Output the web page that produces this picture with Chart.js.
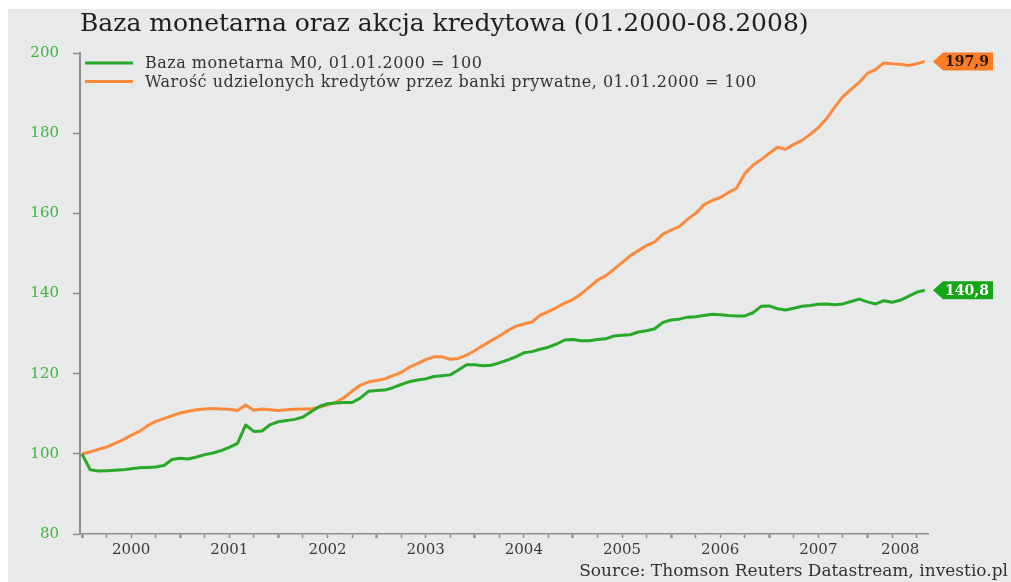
<!DOCTYPE html>
<html>
<head>
<meta charset="utf-8">
<script src="https://cdn.jsdelivr.net/npm/chart.js@4.4.1/dist/chart.umd.min.js"></script>
<style>
  html, body { margin: 0; padding: 0; background: #ffffff; }
  #wrap { width: 1011px; height: 582px; }
</style>
</head>
<body>
<div id="wrap"><canvas id="chartMoney" width="1011" height="582"></canvas></div>
<script>
// monthly index values, Jan 2000 .. Aug 2008 (01.01.2000 = 100)
const yearLabels = ['2000', '2001', '2002', '2003', '2004', '2005', '2006', '2007', '2008'];

const baseM0 = [
  100.0, 96.0, 95.7, 95.8, 95.9, 96.0, 96.3, 96.5, 96.6, 96.7, 97.1, 98.6,
  98.9, 98.7, 99.2, 99.8, 100.2, 100.8, 101.6, 102.6, 107.2, 105.6, 105.7, 107.3,
  108.0, 108.3, 108.6, 109.2, 110.5, 111.8, 112.5, 112.7, 112.8, 112.8, 113.9, 115.6,
  115.8, 115.9, 116.5, 117.3, 118.0, 118.4, 118.7, 119.3, 119.5, 119.7, 120.9, 122.2,
  122.2, 122.0, 122.1, 122.7, 123.4, 124.2, 125.2, 125.5, 126.1, 126.6, 127.4, 128.4,
  128.5, 128.2, 128.2, 128.5, 128.7, 129.4, 129.6, 129.7, 130.4, 130.7, 131.2, 132.8,
  133.4, 133.6, 134.1, 134.2, 134.5, 134.8, 134.7, 134.5, 134.4, 134.4, 135.2, 136.8,
  136.9, 136.2, 135.9, 136.3, 136.8, 137.0, 137.3, 137.4, 137.2, 137.4, 138.0, 138.6,
  137.9, 137.4, 138.2, 137.8, 138.3, 139.3, 140.3, 140.8
];

const credit = [
  100.0, 100.5, 101.1, 101.7, 102.6, 103.5, 104.6, 105.6, 107.0, 108.1, 108.8, 109.5,
  110.2, 110.6, 111.0, 111.2, 111.3, 111.2, 111.1, 110.8, 112.2, 110.9, 111.2, 111.0,
  110.8, 111.0, 111.1, 111.2, 111.2, 111.6, 112.2, 112.8, 114.0, 115.6, 117.1, 117.9,
  118.3, 118.7, 119.5, 120.3, 121.6, 122.5, 123.5, 124.2, 124.2, 123.6, 123.8, 124.6,
  125.8, 127.0, 128.2, 129.4, 130.7, 131.8, 132.4, 132.9, 134.6, 135.5, 136.5, 137.6,
  138.5, 139.9, 141.6, 143.3, 144.4, 146.0, 147.7, 149.4, 150.7, 152.0, 152.9, 154.8,
  155.8, 156.7, 158.5, 160.0, 162.1, 163.2, 163.9, 165.2, 166.3, 169.9, 172.0, 173.4,
  175.0, 176.5, 176.0, 177.2, 178.2, 179.7, 181.4, 183.6, 186.5, 189.1, 190.9, 192.7,
  194.9, 195.9, 197.5, 197.3, 197.2, 196.9, 197.3, 197.9
];

const seriesNames = [
  'Baza monetarna M0, 01.01.2000 = 100',
  'Warość udzielonych kredytów przez banki prywatne, 01.01.2000 = 100'
];

const colors = {
  green: '#2aa82a',
  orange: '#fb8a3c',
  tagGreen: '#16a516',
  tagOrange: '#fa7d26',
  axis: '#8e8e8e',
  yTick: '#3cb63c',
  text: '#333333',
  bg: '#e8e9e9',
};

const FONT = "'DejaVu Serif', 'Liberation Serif', serif";

// year label sits in the middle of its year; the last one in the middle of the shown months
const lastMonth = baseM0.length - 1;
const labelMonths = yearLabels.map(function (y, i) {
  return i < yearLabels.length - 1 ? i * 12 + 6 : 100;
});

function toPoints(values) {
  return values.map(function (v, i) { return { x: i, y: v }; });
}

const frame = {
  id: 'frame',
  beforeDraw: function (chart) {
    const ctx = chart.ctx;
    ctx.save();
    ctx.fillStyle = '#ffffff';
    ctx.fillRect(0, 0, chart.width, chart.height);
    ctx.fillStyle = colors.bg;
    ctx.fillRect(8, 9, chart.width - 8, chart.height - 9);
    ctx.restore();
  },
  afterDraw: function (chart) {
    const ctx = chart.ctx;
    const area = chart.chartArea;
    ctx.save();

    // title
    ctx.fillStyle = '#1e1e1e';
    ctx.font = '25px ' + FONT;
    ctx.textAlign = 'left';
    ctx.textBaseline = 'alphabetic';
    ctx.fillText('Baza monetarna oraz akcja kredytowa (01.2000-08.2008)', 80, 31);

    // legend
    const legendColors = [colors.green, colors.orange];
    const legendY = [63, 81.5];
    ctx.font = '16px ' + FONT;
    ctx.letterSpacing = '0.5px';
    ctx.textBaseline = 'middle';
    seriesNames.forEach(function (name, i) {
      ctx.strokeStyle = legendColors[i];
      ctx.lineWidth = 3;
      ctx.beginPath();
      ctx.moveTo(85, legendY[i]);
      ctx.lineTo(133, legendY[i]);
      ctx.stroke();
      ctx.fillStyle = colors.text;
      ctx.fillText(name, 145, legendY[i] + 1);
    });
    ctx.letterSpacing = '0px';

    // last-value tags on the right
    const yScale = chart.scales.y;
    const tags = [
      { values: baseM0, fill: colors.tagGreen, ink: '#ffffff' },
      { values: credit, fill: colors.tagOrange, ink: '#2a1608' },
    ];
    tags.forEach(function (t) {
      const v = t.values[t.values.length - 1];
      const yc = yScale.getPixelForValue(v);
      const tip = area.right + 5;
      const left = tip + 10;
      const right = left + 50;
      ctx.fillStyle = t.fill;
      ctx.beginPath();
      ctx.moveTo(tip, yc);
      ctx.lineTo(left, yc - 9);
      ctx.lineTo(right, yc - 9);
      ctx.lineTo(right, yc + 9);
      ctx.lineTo(left, yc + 9);
      ctx.closePath();
      ctx.fill();
      ctx.fillStyle = t.ink;
      ctx.font = 'bold 14px ' + FONT;
      ctx.textAlign = 'center';
      ctx.textBaseline = 'middle';
      ctx.fillText(v.toFixed(1).replace('.', ','), (left + right) / 2 - 1, yc + 1);
    });

    // source line
    ctx.fillStyle = colors.text;
    ctx.font = '17px ' + FONT;
    ctx.textAlign = 'right';
    ctx.textBaseline = 'alphabetic';
    ctx.fillText('Source: Thomson Reuters Datastream, investio.pl', 1008, 576);

    ctx.restore();
  },
};

new Chart(document.getElementById('chartMoney'), {
  type: 'line',
  data: {
    datasets: [
      { label: seriesNames[0], data: toPoints(baseM0), borderColor: colors.green, borderWidth: 3, pointRadius: 0, tension: 0, borderJoinStyle: 'round' },
      { label: seriesNames[1], data: toPoints(credit), borderColor: colors.orange, borderWidth: 3, pointRadius: 0, tension: 0, borderJoinStyle: 'round' },
    ],
  },
  options: {
    responsive: false,
    animation: false,
    events: [],
    layout: { padding: { top: 53, right: 83, left: 0, bottom: 0 } },
    plugins: { legend: { display: false }, tooltip: { enabled: false }, title: { display: false } },
    scales: {
      x: {
        type: 'linear',
        min: -0.25,
        max: 103.4,
        afterFit: function (s) { s.height = 48; },
        afterBuildTicks: function (s) {
          const ticks = [];
          for (let m = 0; m <= lastMonth; m++) ticks.push({ value: m });
          s.ticks = ticks;
        },
        border: { display: true, color: colors.axis, width: 1.5 },
        grid: {
          drawOnChartArea: false,
          drawTicks: true,
          tickLength: 4,
          tickColor: function (c) { return c.tick && c.tick.value % 3 === 0 ? colors.axis : 'rgba(0,0,0,0)'; },
          tickWidth: function (c) { return c.tick && c.tick.value % 12 === 0 ? 2.5 : 1.5; },
        },
        ticks: {
          autoSkip: false,
          maxRotation: 0,
          minRotation: 0,
          padding: 3,
          color: '#3a3a3a',
          font: { family: FONT, size: 15 },
          callback: function (value) {
            const i = labelMonths.indexOf(value);
            return i >= 0 ? yearLabels[i] : '';
          },
        },
      },
      y: {
        min: 80,
        max: 200,
        afterFit: function (s) { s.width = 80; },
        border: { display: true, color: colors.axis, width: 2 },
        grid: { drawOnChartArea: false, drawTicks: true, tickLength: 7, tickColor: colors.axis, tickWidth: 1.5 },
        ticks: {
          stepSize: 20,
          padding: 14,
          color: colors.yTick,
          font: { family: FONT, size: 15 },
        },
      },
    },
  },
  plugins: [frame],
});
</script>
</body>
</html>
